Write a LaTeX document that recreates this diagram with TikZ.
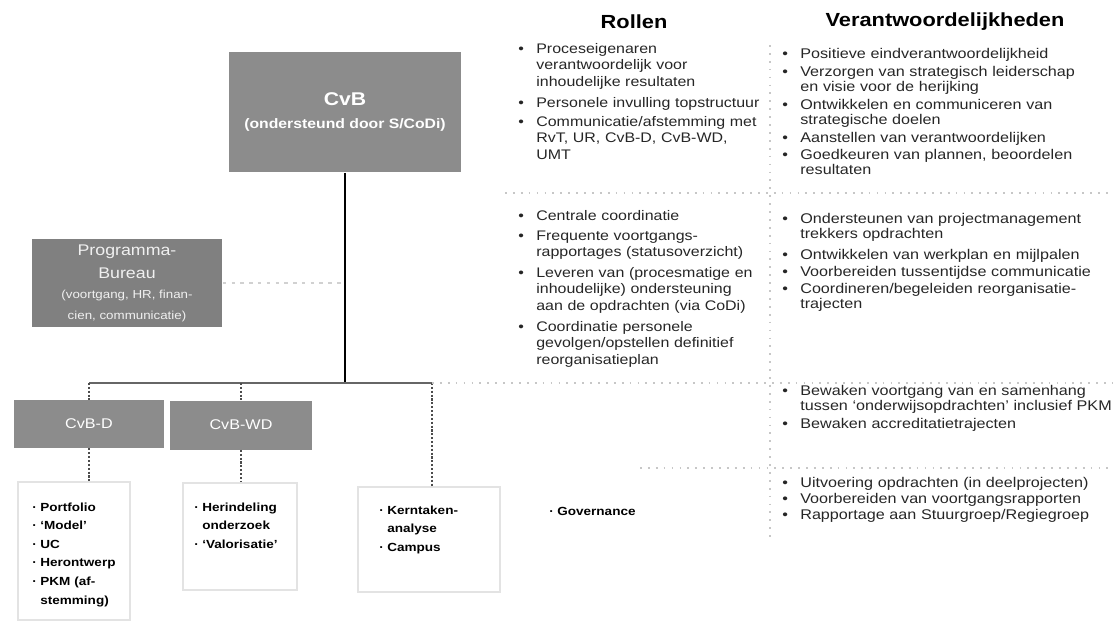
\documentclass[tikz,border=0pt]{standalone}
\usepackage{fontspec}
\setmainfont{Liberation Sans}[FakeStretch=1.15]
\usetikzlibrary{positioning}
\newcommand{\bul}{\leavevmode\llap{\textbullet\hspace{7pt}}}
\newcommand{\dotb}{\leavevmode\llap{·\hspace{2pt}}}

\begin{document}
\begin{tikzpicture}[x=0.02cm, y=-0.02cm,
  box/.style     = {rectangle, fill=black!45, text=white, inner sep=0pt, align=center},
  listbox/.style = {rectangle, draw=black!11, line width=0.6pt, inner sep=0pt},
  hdr/.style     = {inner sep=0pt, font=\bfseries\fontsize{10.8}{12}\selectfont},
  rol/.style     = {anchor=base west, inner sep=0pt, text width=7cm, align=left, text=black!85,
                    font=\fontsize{7.9}{9.6}\selectfont},
  ver/.style     = {rol, font=\fontsize{8}{9.1}\selectfont},
  task/.style    = {anchor=base west, inner sep=0pt, text width=3cm, align=left,
                    font=\bfseries\fontsize{6.7}{10.6}\selectfont},
  sep/.style     = {draw=black!22, line width=0.6pt, dash pattern=on 1pt off 3.5pt},
  trunk/.style   = {draw=black, line width=1.7pt},
  tree/.style    = {draw=black!60, line width=1.1pt},
  drop/.style    = {draw=black!70, line width=0.7pt, dash pattern=on 1.2pt off 1pt},
  faint/.style   = {draw=black!18, line width=0.6pt, dash pattern=on 2pt off 3pt},
  ]
  \useasboundingbox (0,0) rectangle (1113,633);

  % Headers
  \node (hRol) at (634,22) [hdr] {Rollen};
  \node (hVer) at (945,22) [hdr] {Verantwoordelijkheden};

  % Boxes
  \node (cvb)   at (345,112) [box, minimum width=4.66cm, minimum height=2.42cm]
    {\bfseries\fontsize{10.5}{12}\selectfont CvB\\[1pt]\bfseries\fontsize{7.8}{9}\selectfont (ondersteund door S/CoDi)};
  \node (pb)    at (127,283) [box, fill=black!50, text=black!6, minimum width=3.82cm, minimum height=1.76cm]
    {\fontsize{8.8}{10}\selectfont Programma-\\[1.5pt]\fontsize{8.8}{10}\selectfont Bureau\\[-0.5pt]
     \fontsize{6.6}{7.5}\selectfont (voortgang, HR, finan-\\[-0.5pt]\fontsize{6.6}{7.5}\selectfont cien, communicatie)};
  \node (cvbd)  at (89,424)  [box, minimum width=3cm, minimum height=0.96cm, font=\fontsize{8}{9}\selectfont] {CvB-D};
  \node (cvbwd) at (241,425) [box, minimum width=2.86cm, minimum height=0.98cm, font=\fontsize{8}{9}\selectfont] {CvB-WD};

  % List boxes
  \node (ld)  at (74,551)    [listbox, minimum width=2.24cm, minimum height=2.76cm] {};
  \node (lwd) at (240,536.5) [listbox, minimum width=2.28cm, minimum height=2.14cm] {};
  \node (lk)  at (429,539.5) [listbox, minimum width=2.84cm, minimum height=2.1cm]  {};

  \node (tD)  at (40,511)  [task] {\dotb Portfolio\\\dotb `Model'\\\dotb UC\\\dotb Herontwerp\\\dotb PKM (af-\\stemming)};
  \node (tWD) at (202,511) [task] {\dotb Herindeling\\onderzoek\\\dotb `Valorisatie'};
  \node (tK)  at (387,514) [task] {\dotb Kerntaken-\\analyse\\\dotb Campus};
  \node (tG)  at (557,515) [task] {\dotb Governance};

  % Tree
  \coordinate (hub) at (cvb.south |- 0,383);
  \coordinate (kt)  at (432,383);
  \draw[trunk] (cvb.south) -- (hub);
  \draw[tree]  (cvbd.north |- hub) -- (kt);
  \draw[drop]  (cvbd.north |- hub) -- (cvbd.north);
  \draw[drop]  (cvbwd.north |- hub) -- (cvbwd.north);
  \draw[drop]  (kt) -- (kt |- lk.north);
  \draw[drop]  (cvbd.south) -- (cvbd.south |- ld.north);
  \draw[drop]  (cvbwd.south) -- (cvbwd.south |- lwd.north);
  \draw[faint] (pb.east) -- (pb.east -| hub);

  % Rollen
  \node (r1) at (536,53)  [rol] {\bul Proceseigenaren\\verantwoordelijk voor\\inhoudelijke resultaten};
  \node (r2) at (536,107) [rol] {\bul Personele invulling topstructuur};
  \node (r3) at (536,126) [rol] {\bul Communicatie/afstemming met\\RvT, UR, CvB-D, CvB-WD,\\UMT};
  \node (r4) at (536,220) [rol] {\bul Centrale coordinatie};
  \node (r5) at (536,240) [rol] {\bul Frequente voortgangs-\\rapportages (statusoverzicht)};
  \node (r6) at (536,277) [rol] {\bul Leveren van (procesmatige en\\inhoudelijke) ondersteuning\\aan de opdrachten (via CoDi)};
  \node (r7) at (536,331) [rol] {\bul Coordinatie personele\\gevolgen/opstellen definitief\\reorganisatieplan};

  % Verantwoordelijkheden
  \node (v1)  at (800,58)  [ver] {\bul Positieve eindverantwoordelijkheid};
  \node (v2)  at (800,76)  [ver] {\bul Verzorgen van strategisch leiderschap\\en visie voor de herijking};
  \node (v3)  at (800,109) [ver] {\bul Ontwikkelen en communiceren van\\strategische doelen};
  \node (v4)  at (800,142) [ver] {\bul Aanstellen van verantwoordelijken};
  \node (v5)  at (800,159) [ver] {\bul Goedkeuren van plannen, beoordelen\\resultaten};
  \node (v6)  at (800,223) [ver] {\bul Ondersteunen van projectmanagement\\trekkers opdrachten};
  \node (v7)  at (800,259) [ver] {\bul Ontwikkelen van werkplan en mijlpalen};
  \node (v8)  at (800,276) [ver] {\bul Voorbereiden tussentijdse communicatie};
  \node (v9)  at (800,293) [ver] {\bul Coordineren/begeleiden reorganisatie-\\trajecten};
  \node (v10) at (800,395) [ver] {\bul Bewaken voortgang van en samenhang\\tussen `onderwijsopdrachten' inclusief PKM};
  \node (v11) at (800,428) [ver] {\bul Bewaken accreditatietrajecten};
  \node (v12) at (800,487) [ver] {\bul Uitvoering opdrachten (in deelprojecten)};
  \node (v13) at (800,503) [ver] {\bul Voorbereiden van voortgangsrapporten};
  \node (v14) at (800,519) [ver] {\bul Rapportage aan Stuurgroep/Regiegroep};

  % Separators
  \draw[sep] (505,193) -- (1113,193);
  \draw[sep] (kt) -- (1113,383);
  \draw[sep] (640,468) -- (1113,468);
  \draw[sep] (770,45) -- (770,540);
\end{tikzpicture}
\end{document}
